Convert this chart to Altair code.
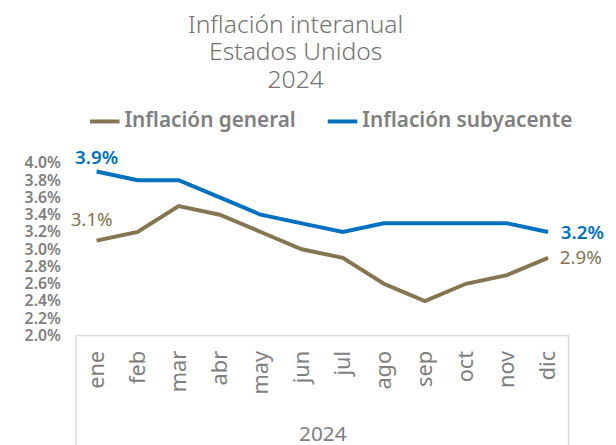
import altair as alt
import pandas as pd

months = ["ene", "feb", "mar", "abr", "may", "jun", "jul", "ago", "sep", "oct", "nov", "dic"]
general = [3.1, 3.2, 3.5, 3.4, 3.2, 3.0, 2.9, 2.6, 2.4, 2.6, 2.7, 2.9]
core = [3.9, 3.8, 3.8, 3.6, 3.4, 3.3, 3.2, 3.3, 3.3, 3.3, 3.3, 3.2]
series_names = ["Inflación general", "Inflación subyacente"]
series_colors = ["#857550", "#0070C0"]
y_ticks = [0.020, 0.022, 0.024, 0.026, 0.028, 0.030, 0.032, 0.034, 0.036, 0.038, 0.040]

rows = []
for i, m in enumerate(months):
    rows.append({"mes": m, "serie": series_names[0], "valor": general[i] / 100, "idx": i})
    rows.append({"mes": m, "serie": series_names[1], "valor": core[i] / 100, "idx": i})
df = pd.DataFrame(rows)

FONT = "Noto Sans"
GRAY = "#7F7F7F"
W, H = 499, 175

x = alt.X("mes:N", sort=months,
          scale=alt.Scale(paddingInner=0, paddingOuter=0),
          axis=alt.Axis(title="2024", labelAngle=270, labelFontSize=22, labelColor=GRAY,
                        labelFont=FONT, labelPadding=15, ticks=False, domain=False,
                        labelBaseline="middle",
                        titleFont=FONT, titleFontSize=21, titleColor=GRAY,
                        titleFontWeight="normal", titlePadding=30))
y = alt.Y("valor:Q", scale=alt.Scale(domain=[0.02, 0.04]),
          axis=alt.Axis(values=y_ticks, format=".1%", title=None, grid=False, domain=False,
                        ticks=False, labelFont=FONT, labelFontSize=16, labelColor=GRAY,
                        labelFontWeight=600, labelPadding=16, labelOverlap=False))
color = alt.Color("serie:N", sort=series_names,
                  scale=alt.Scale(domain=series_names, range=series_colors),
                  legend=alt.Legend(title=None, orient="none", legendX=12, legendY=-59,
                                    direction="horizontal", symbolType="stroke",
                                    symbolStrokeWidth=4, symbolSize=900,
                                    labelFont=FONT, labelFontSize=21, labelColor=GRAY,
                                    labelFontWeight=600, columnPadding=24, labelOffset=3,
                                    labelLimit=400))

box = alt.Chart(pd.DataFrame({"a": [0]})).mark_rect(
    fill=None, stroke="#D9D9D9", strokeWidth=1.5, clip=False
).encode(x=alt.value(0), x2=alt.value(W), y=alt.value(H), y2=alt.value(H + 130))

lines = alt.Chart(df).mark_line(strokeWidth=4).encode(x=x, y=y, color=color)

last = df[df["idx"] == 11]
first_core = df[(df["idx"] == 0) & (df["serie"] == series_names[1])]
first_gen = df[(df["idx"] == 0) & (df["serie"] == series_names[0])]

def lbl(data, weight, **kw):
    return alt.Chart(data).mark_text(font=FONT, fontSize=19, fontWeight=weight, **kw).encode(
        x=x, y=y,
        text=alt.Text("valor:Q", format=".1%"),
        color=color)

end_core = lbl(last[last["serie"] == series_names[1]], 600, align="left", dx=13, dy=1)
end_gen = lbl(last[last["serie"] == series_names[0]], "normal", align="left", dx=12, dy=0)
start_core = lbl(first_core, 600, align="center", dx=0, dy=-14)
start_gen = lbl(first_gen, "normal", align="center", dx=-5, dy=-21)

chart = alt.layer(box, lines, end_core, end_gen, start_core, start_gen).properties(
    width=W, height=H,
    title=alt.TitleParams(["Inflación interanual", "Estados Unidos", "2024"],
                          anchor="middle", font=FONT, fontSize=25, fontWeight=300,
                          color="#767171", lineHeight=28, offset=12, dx=-27),
    padding={"left": 69, "top": 154, "right": 40, "bottom": 116},
    autosize=alt.AutoSizeParams(type="none"),
).configure_view(stroke=None)

chart.save("out.html", embed_options={"renderer": "svg", "actions": False})
